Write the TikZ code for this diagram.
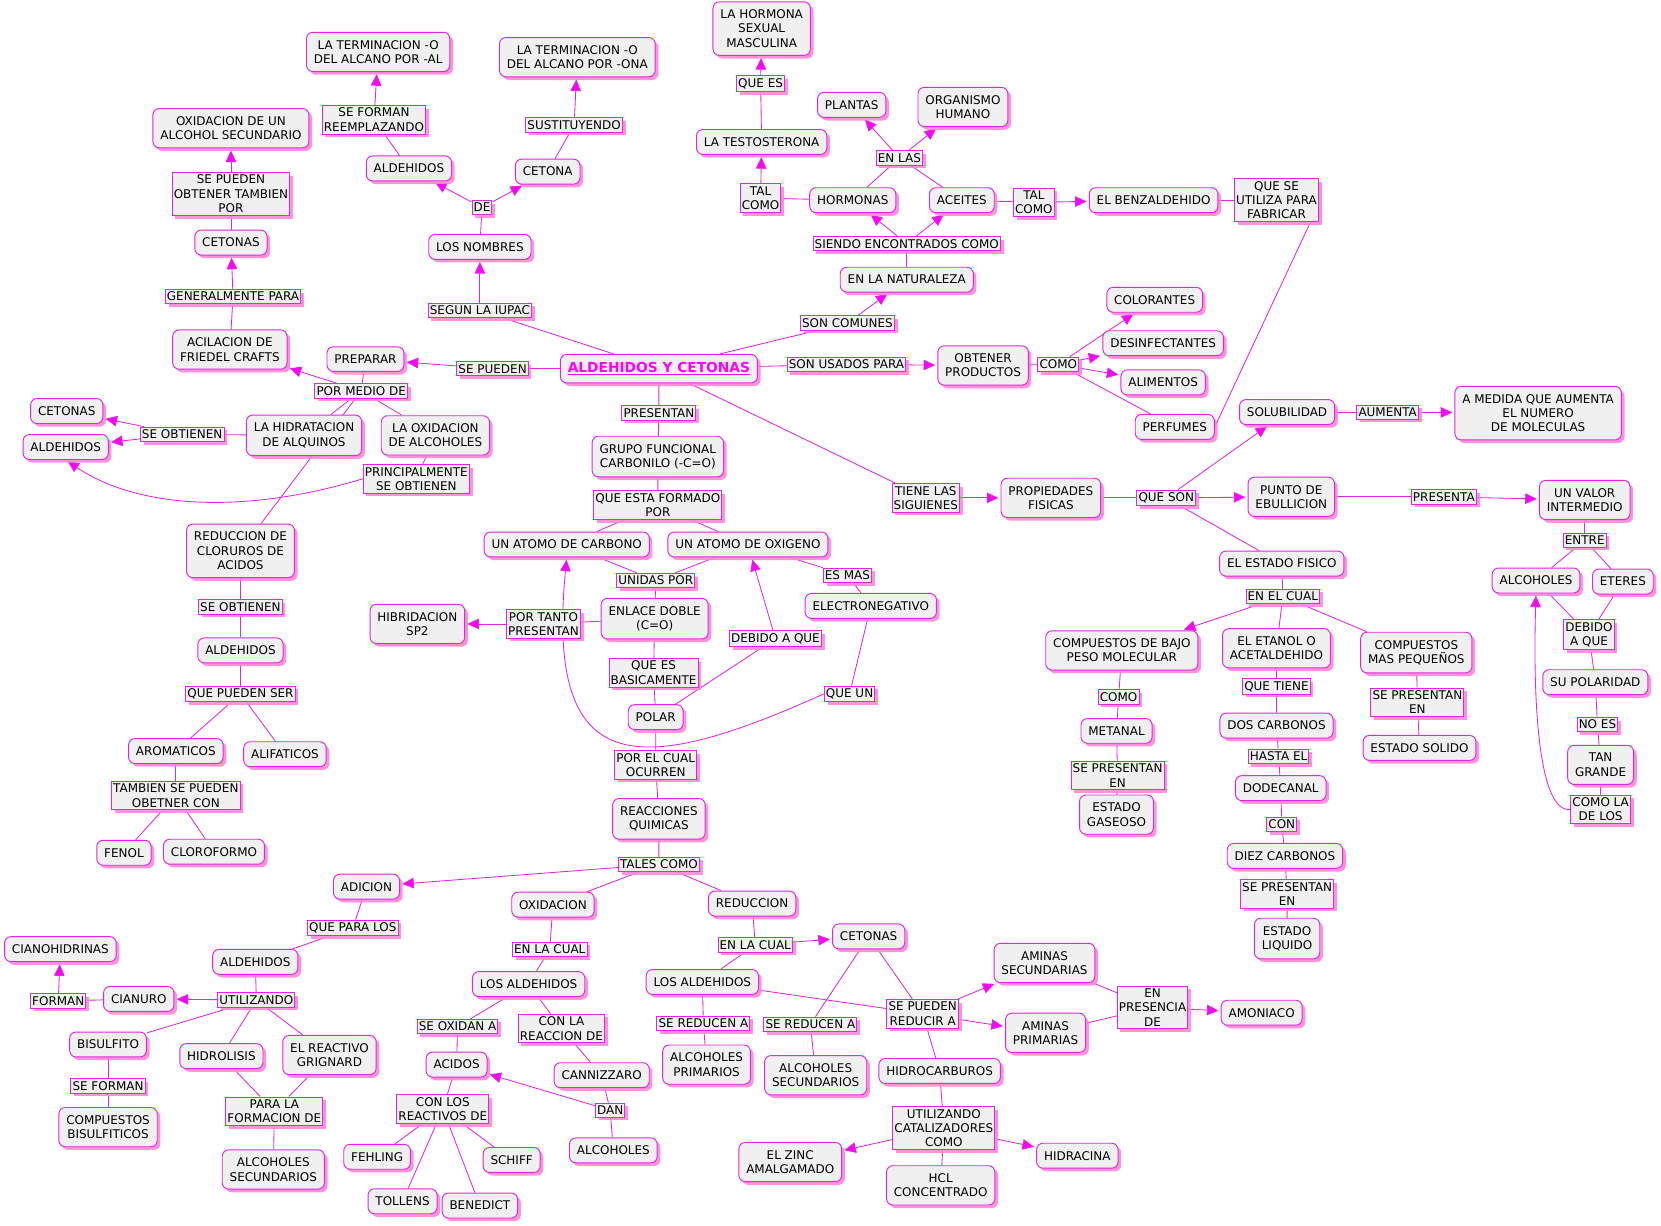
\documentclass[tikz,border=0pt]{standalone}
\usepackage{fontspec}
\setmainfont{DejaVu Sans}
\usetikzlibrary{arrows.meta,shadows,backgrounds}
\definecolor{aldmag}{RGB}{222,40,222}
\definecolor{aldfill}{RGB}{240,240,240}
\definecolor{aldshade}{RGB}{255,135,215}
\definecolor{aldtip}{RGB}{255,0,255}
\begin{document}
\begin{tikzpicture}[x=1pt, y=-1pt,
  aldconc/.style = {draw=aldmag, line width=0.9pt, fill=aldfill, rounded corners=6pt,
    align=center, inner xsep=7pt, inner ysep=7.5pt,
    font=\fontsize{11.3}{13.5}\selectfont,
    drop shadow={fill=aldshade, opacity=0.9, shadow xshift=3pt, shadow yshift=-3pt}},
  aldlink/.style = {draw=aldmag, line width=0.9pt, fill=aldfill, align=center,
    inner xsep=1.5pt, inner ysep=2.5pt, font=\fontsize{11.3}{13.5}\selectfont,
    drop shadow={fill=aldshade, opacity=0.9, shadow xshift=3pt, shadow yshift=-3pt}},
  aldline/.style = {draw=aldmag, line width=0.8pt},
  aldarr/.style = {aldline, -{Triangle[length=11pt,width=10pt,fill=aldtip]}, shorten >=2pt}
]
\useasboundingbox (0,0) rectangle (1568,1157);

% centro
\node[aldconc, font=\fontsize{13}{15}\selectfont\bfseries, text=aldtip] (central) at (622,348) {\underline{ALDEHIDOS Y CETONAS}};

% naturaleza
\node[aldconc] (hormona) at (719,27) {LA HORMONA\\SEXUAL\\MASCULINA};
\node[aldlink] (quees) at (718,79) {QUE ES};
\node[aldconc] (testost) at (719,134) {LA TESTOSTERONA};
\node[aldlink] (talcomoA) at (718,187) {TAL\\COMO};
\node[aldconc] (hormonas) at (805,189) {HORMONAS};
\node[aldconc] (plantas) at (804,99) {PLANTAS};
\node[aldconc] (organismo) at (909,101) {ORGANISMO\\HUMANO};
\node[aldlink] (enlas) at (849,149) {EN LAS};
\node[aldconc] (aceites) at (908,189) {ACEITES};
\node[aldlink] (talcomoB) at (976,191) {TAL\\COMO};
\node[aldconc] (benzal) at (1089,189) {EL BENZALDEHIDO};
\node[aldlink] (queseutil) at (1205,189) {QUE SE\\UTILIZA PARA\\FABRICAR};
\node[aldlink] (siendo) at (856,230) {SIENDO ENCONTRADOS COMO};
\node[aldconc] (naturaleza) at (856,264) {EN LA NATURALEZA};
\node[aldlink] (soncomunes) at (800,305) {SON COMUNES};

% nombres
\node[aldconc] (termA) at (357,49) {LA TERMINACION -O\\DEL ALCANO POR -AL};
\node[aldlink] (seformanA) at (353,113) {SE FORMAN\\REEMPLAZANDO};
\node[aldconc] (aldehA) at (386,159) {ALDEHIDOS};
\node[aldconc] (termB) at (545,54) {LA TERMINACION -O\\DEL ALCANO POR -ONA};
\node[aldlink] (sustit) at (542,118) {SUSTITUYENDO};
\node[aldconc] (cetonA) at (517,162) {CETONA};
\node[aldlink] (de) at (455,196) {DE};
\node[aldconc] (nombres) at (453,233) {LOS NOMBRES};
\node[aldlink] (segun) at (453,293) {SEGUN LA IUPAC};

% preparacion
\node[aldconc] (oxsec) at (218,121) {OXIDACION DE UN\\ALCOHOL SECUNDARIO};
\node[aldlink] (sepuedenB) at (218,183) {SE PUEDEN\\OBTENER TAMBIEN\\POR};
\node[aldconc] (cetonasA) at (218,229) {CETONAS};
\node[aldlink] (generalm) at (220,280) {GENERALMENTE PARA};
\node[aldconc] (acilac) at (217,330) {ACILACION DE\\FRIEDEL CRAFTS};
\node[aldconc] (preparar) at (345,339) {PREPARAR};
\node[aldlink] (sepuedenA) at (465,348) {SE PUEDEN};
\node[aldlink] (pormedio) at (341,369) {POR MEDIO DE};
\node[aldconc] (hidrat) at (287,411) {LA HIDRATACION\\DE ALQUINOS};
\node[aldconc] (oxalc) at (411,411) {LA OXIDACION\\DE ALCOHOLES};
\node[aldlink] (seobtA) at (172,410) {SE OBTIENEN};
\node[aldconc] (cetonasB) at (63,388) {CETONAS};
\node[aldconc] (aldehB) at (62,422) {ALDEHIDOS};
\node[aldlink] (princip) at (393,452) {PRINCIPALMENTE\\SE OBTIENEN};
\node[aldconc] (reduccl) at (227,520) {REDUCCION DE\\CLORUROS DE\\ACIDOS};
\node[aldlink] (seobtB) at (227,573) {SE OBTIENEN};
\node[aldconc] (aldehC) at (227,614) {ALDEHIDOS};
\node[aldlink] (puedenser) at (227,655) {QUE PUEDEN SER};
\node[aldconc] (aromat) at (166,709) {AROMATICOS};
\node[aldconc] (alifat) at (269,712) {ALIFATICOS};
\node[aldlink] (tambien) at (166,751) {TAMBIEN SE PUEDEN\\OBETNER CON};
\node[aldconc] (fenol) at (117,805) {FENOL};
\node[aldconc] (clorof) at (202,804) {CLOROFORMO};

% carbonilo
\node[aldlink] (presentan) at (622,390) {PRESENTAN};
\node[aldconc] (grupo) at (621,431) {GRUPO FUNCIONAL\\CARBONILO (-C=O)};
\node[aldlink] (formado) at (621,477) {QUE ESTA FORMADO\\POR};
\node[aldconc] (atomC) at (535,514) {UN ATOMO DE CARBONO};
\node[aldconc] (atomO) at (706,514) {UN ATOMO DE OXIGENO};
\node[aldlink] (unidas) at (619,548) {UNIDAS POR};
\node[aldconc] (enlace) at (618,584) {ENLACE DOBLE\\(C=O)};
\node[aldlink] (portanto) at (513,589) {POR TANTO\\PRESENTAN};
\node[aldconc] (hibrid) at (394,589) {HIBRIDACION\\SP2};
\node[aldlink] (esmas) at (800,543) {ES MAS};
\node[aldconc] (electro) at (822,572) {ELECTRONEGATIVO};
\node[aldlink] (debidoA) at (732,603) {DEBIDO A QUE};
\node[aldlink] (basic) at (617,635) {QUE ES\\BASICAMENTE};
\node[aldconc] (polar) at (619,677) {POLAR};
\node[aldlink] (queun) at (802,655) {QUE UN};
\node[aldlink] (porelcual) at (619,722) {POR EL CUAL\\OCURREN};
\node[aldconc] (reacc) at (622,773) {REACCIONES\\QUIMICAS};
\node[aldlink] (tales) at (622,816) {TALES COMO};

% adicion
\node[aldconc] (adicion) at (346,837) {ADICION};
\node[aldlink] (quepara) at (333,876) {QUE PARA LOS};
\node[aldconc] (aldehD) at (241,908) {ALDEHIDOS};
\node[aldlink] (utilizA) at (242,944) {UTILIZANDO};
\node[aldconc] (cianuro) at (131,943) {CIANURO};
\node[aldlink] (forman) at (55,945) {FORMAN};
\node[aldconc] (cianoh) at (57,896) {CIANOHIDRINAS};
\node[aldconc] (bisulf) at (102,986) {BISULFITO};
\node[aldconc] (hidrol) at (209,997) {HIDROLISIS};
\node[aldconc] (grign) at (311,996) {EL REACTIVO\\GRIGNARD};
\node[aldlink] (seformanB) at (102,1025) {SE FORMAN};
\node[aldconc] (compbis) at (102,1064) {COMPUESTOS\\BISULFITICOS};
\node[aldlink] (paraform) at (259,1049) {PARA LA\\FORMACION DE};
\node[aldconc] (alcsecA) at (258,1104) {ALCOHOLES\\SECUNDARIOS};

% oxidacion
\node[aldconc] (oxid) at (522,854) {OXIDACION};
\node[aldlink] (enlacualA) at (519,896) {EN LA CUAL};
\node[aldconc] (losaldA) at (499,929) {LOS ALDEHIDOS};
\node[aldlink] (seoxidan) at (432,969) {SE OXIDAN A};
\node[aldlink] (conlareac) at (530,971) {CON LA\\REACCION DE};
\node[aldconc] (acidos) at (431,1005) {ACIDOS};
\node[aldconc] (cannizz) at (568,1015) {CANNIZZARO};
\node[aldlink] (dan) at (576,1048) {DAN};
\node[aldconc] (alcoholes) at (579,1086) {ALCOHOLES};
\node[aldlink] (conlosreac) at (418,1047) {CON LOS\\REACTIVOS DE};
\node[aldconc] (fehling) at (356,1092) {FEHLING};
\node[aldconc] (schiff) at (483,1095) {SCHIFF};
\node[aldconc] (tollens) at (380,1134) {TOLLENS};
\node[aldconc] (benedict) at (453,1138) {BENEDICT};

% reduccion
\node[aldconc] (reduc) at (710,853) {REDUCCION};
\node[aldlink] (enlacualB) at (713,892) {EN LA CUAL};
\node[aldconc] (cetonasC) at (820,884) {CETONAS};
\node[aldconc] (losaldB) at (663,927) {LOS ALDEHIDOS};
\node[aldlink] (sereducA) at (664,966) {SE REDUCEN A};
\node[aldconc] (alcprim) at (667,1005) {ALCOHOLES\\PRIMARIOS};
\node[aldlink] (sereducB) at (765,967) {SE REDUCEN A};
\node[aldconc] (alcsecB) at (770,1015) {ALCOHOLES\\SECUNDARIOS};
\node[aldlink] (reducira) at (871,957) {SE PUEDEN\\REDUCIR A};
\node[aldconc] (aminsec) at (986,909) {AMINAS\\SECUNDARIAS};
\node[aldconc] (aminprim) at (987,975) {AMINAS\\PRIMARIAS};
\node[aldlink] (enpresencia) at (1088,951) {EN\\PRESENCIA\\DE};
\node[aldconc] (amoniaco) at (1191,956) {AMONIACO};
\node[aldconc] (hidroc) at (887,1011) {HIDROCARBUROS};
\node[aldlink] (utilizB) at (891,1065) {UTILIZANDO\\CATALIZADORES\\COMO};
\node[aldconc] (zinc) at (746,1097) {EL ZINC\\AMALGAMADO};
\node[aldconc] (hcl) at (888,1119) {HCL\\CONCENTRADO};
\node[aldconc] (hidracina) at (1017,1091) {HIDRACINA};

% usos
\node[aldlink] (sonusados) at (799,344) {SON USADOS PARA};
\node[aldconc] (obtener) at (928,345) {OBTENER\\PRODUCTOS};
\node[aldlink] (comoA) at (999,344) {COMO};
\node[aldconc] (colorantes) at (1090,283) {COLORANTES};
\node[aldconc] (desinf) at (1098,324) {DESINFECTANTES};
\node[aldconc] (alimentos) at (1098,361) {ALIMENTOS};
\node[aldconc] (perfumes) at (1109,403) {PERFUMES};

% propiedades fisicas
\node[aldlink] (tienelas) at (874,470) {TIENE LAS\\SIGUIENES};
\node[aldconc] (propfis) at (992,470) {PROPIEDADES\\FISICAS};
\node[aldlink] (queson) at (1101,470) {QUE SON};
\node[aldconc] (solub) at (1215,389) {SOLUBILIDAD};
\node[aldlink] (aumenta) at (1310,389) {AUMENTA};
\node[aldconc] (amedida) at (1452,390) {A MEDIDA QUE AUMENTA\\EL NUMERO\\DE MOLECULAS};
\node[aldconc] (punto) at (1219,469) {PUNTO DE\\EBULLICION};
\node[aldlink] (presenta) at (1363,469) {PRESENTA};
\node[aldconc] (unvalor) at (1496,472) {UN VALOR\\INTERMEDIO};
\node[aldlink] (entre) at (1496,510) {ENTRE};
\node[aldconc] (alcohB) at (1450,548) {ALCOHOLES};
\node[aldconc] (eteres) at (1532,549) {ETERES};
\node[aldlink] (debidoB) at (1500,599) {DEBIDO\\A QUE};
\node[aldconc] (polaridad) at (1506,644) {SU POLARIDAD};
\node[aldlink] (noes) at (1508,684) {NO ES};
\node[aldconc] (tangrande) at (1511,722) {TAN\\GRANDE};
\node[aldlink] (comola) at (1511,764) {COMO LA\\DE LOS};
\node[aldconc] (estadof) at (1210,532) {EL ESTADO FISICO};
\node[aldlink] (enelcual) at (1211,563) {EN EL CUAL};
\node[aldconc] (bajopeso) at (1059,614) {COMPUESTOS DE BAJO\\PESO MOLECULAR};
\node[aldconc] (etanol) at (1205,612) {EL ETANOL O\\ACETALDEHIDO};
\node[aldconc] (maspeq) at (1337,616) {COMPUESTOS\\MAS PEQUEÑOS};
\node[aldlink] (comoB) at (1056,658) {COMO};
\node[aldconc] (metanal) at (1054,690) {METANAL};
\node[aldlink] (sepresA) at (1055,732) {SE PRESENTAN\\EN};
\node[aldconc] (gaseoso) at (1054,769) {ESTADO\\GASEOSO};
\node[aldlink] (quetiene) at (1205,648) {QUE TIENE};
\node[aldconc] (doscarb) at (1205,685) {DOS CARBONOS};
\node[aldlink] (hasta) at (1207,714) {HASTA EL};
\node[aldconc] (dodec) at (1209,744) {DODECANAL};
\node[aldlink] (con) at (1210,778) {CON};
\node[aldconc] (diezcarb) at (1213,808) {DIEZ CARBONOS};
\node[aldlink] (sepresB) at (1215,844) {SE PRESENTAN\\EN};
\node[aldconc] (liquido) at (1215,886) {ESTADO\\LIQUIDO};
\node[aldlink] (sepresC) at (1338,663) {SE PRESENTAN\\EN};
\node[aldconc] (solido) at (1340,706) {ESTADO SOLIDO};

\begin{scope}[on background layer]
  % arriba
  \draw[aldline] (testost) -- (quees);
  \draw[aldarr] (quees) -- (hormona);
  \draw[aldline] (hormonas) -- (talcomoA);
  \draw[aldarr] (talcomoA) -- (testost);
  \draw[aldline] (hormonas) -- (enlas);
  \draw[aldline] (aceites) -- (enlas);
  \draw[aldarr] (enlas) -- (plantas);
  \draw[aldarr] (enlas) -- (organismo);
  \draw[aldline] (naturaleza) -- (siendo);
  \draw[aldarr] (siendo) -- (hormonas);
  \draw[aldarr] (siendo) -- (aceites);
  \draw[aldline] (aceites) -- (talcomoB);
  \draw[aldarr] (talcomoB) -- (benzal);
  \draw[aldline] (benzal) -- (queseutil);
  \draw[aldline] ([xshift=-8pt]queseutil.south east) -- (perfumes.east);
  \draw[aldline] (central) -- (soncomunes);
  \draw[aldarr] (soncomunes) -- (naturaleza);
  \draw[aldline] (aldehA) -- (seformanA);
  \draw[aldarr] (seformanA) -- (termA);
  \draw[aldline] (cetonA) -- (sustit);
  \draw[aldarr] (sustit) -- (termB);
  \draw[aldline] (nombres) -- (de);
  \draw[aldarr] (de) -- (aldehA);
  \draw[aldarr] (de) -- (cetonA);
  \draw[aldline] (central) -- (segun);
  \draw[aldarr] (segun) -- (nombres);
  % izquierda
  \draw[aldline] (cetonasA) -- (sepuedenB);
  \draw[aldarr] (sepuedenB) -- (oxsec);
  \draw[aldline] (acilac) -- (generalm);
  \draw[aldarr] (generalm) -- (cetonasA);
  \draw[aldline] (central) -- (sepuedenA);
  \draw[aldarr] (sepuedenA) -- (preparar);
  \draw[aldline] (preparar) -- (pormedio);
  \draw[aldarr] (pormedio) -- (acilac);
  \draw[aldline] (pormedio) -- (hidrat);
  \draw[aldline] (pormedio) -- (oxalc);
  \draw[aldline] (pormedio) -- (reduccl);
  \draw[aldline] (hidrat) -- (seobtA);
  \draw[aldarr] (seobtA) -- (cetonasB);
  \draw[aldarr] (seobtA) -- (aldehB);
  \draw[aldline] (oxalc) -- (princip);
  \draw[aldarr] (princip.west) .. controls (230,486) and (130,480) .. (aldehB.south);
  \draw[aldline] (reduccl) -- (seobtB) -- (aldehC) -- (puedenser);
  \draw[aldline] (puedenser) -- (aromat);
  \draw[aldline] (puedenser) -- (alifat);
  \draw[aldline] (aromat) -- (tambien);
  \draw[aldline] (tambien) -- (fenol);
  \draw[aldline] (tambien) -- (clorof);
  % centro
  \draw[aldline] (central) -- (presentan) -- (grupo) -- (formado);
  \draw[aldline] (formado) -- (atomC);
  \draw[aldline] (formado) -- (atomO);
  \draw[aldline] (atomC) -- (unidas);
  \draw[aldline] (atomO) -- (unidas);
  \draw[aldline] (unidas) -- (enlace);
  \draw[aldline] (enlace) -- (portanto);
  \draw[aldarr] (portanto) -- (hibrid);
  \draw[aldline] (atomO) -- (esmas) -- (electro);
  \draw[aldline] (electro) -- (queun);
  \draw[aldarr] (queun.west) .. controls (600,735) and (515,735) .. (atomC.south);
  \draw[aldline] (polar) -- (debidoA);
  \draw[aldarr] (debidoA) -- (atomO);
  \draw[aldline] (enlace) -- (basic) -- (polar) -- (porelcual) -- (reacc) -- (tales);
  \draw[aldarr] (tales) -- (adicion);
  \draw[aldline] (tales) -- (oxid);
  \draw[aldline] (tales) -- (reduc);
  % adicion
  \draw[aldline] (adicion) -- (quepara) -- (aldehD) -- (utilizA);
  \draw[aldarr] (utilizA) -- (cianuro);
  \draw[aldline] (cianuro) -- (forman);
  \draw[aldarr] (forman) -- (cianoh);
  \draw[aldline] (utilizA) -- (bisulf);
  \draw[aldline] (utilizA) -- (hidrol);
  \draw[aldline] (utilizA) -- (grign);
  \draw[aldline] (bisulf) -- (seformanB) -- (compbis);
  \draw[aldline] (hidrol) -- (paraform);
  \draw[aldline] (grign) -- (paraform);
  \draw[aldline] (paraform) -- (alcsecA);
  % oxidacion
  \draw[aldline] (oxid) -- (enlacualA) -- (losaldA);
  \draw[aldline] (losaldA) -- (seoxidan) -- (acidos);
  \draw[aldline] (losaldA) -- (conlareac) -- (cannizz) -- (dan) -- (alcoholes);
  \draw[aldarr] (dan) -- (acidos);
  \draw[aldline] (acidos) -- (conlosreac);
  \draw[aldline] (conlosreac) -- (fehling);
  \draw[aldline] (conlosreac) -- (schiff);
  \draw[aldline] (conlosreac) -- (tollens);
  \draw[aldline] (conlosreac) -- (benedict);
  % reduccion
  \draw[aldline] (reduc) -- (enlacualB);
  \draw[aldarr] (enlacualB) -- (cetonasC);
  \draw[aldline] (enlacualB) -- (losaldB);
  \draw[aldline] (losaldB) -- (sereducA) -- (alcprim);
  \draw[aldline] (cetonasC) -- (sereducB) -- (alcsecB);
  \draw[aldline] (losaldB) -- (reducira);
  \draw[aldline] (cetonasC) -- (reducira);
  \draw[aldarr] (reducira) -- (aminsec);
  \draw[aldarr] (reducira) -- (aminprim);
  \draw[aldline] (aminsec) -- (enpresencia);
  \draw[aldline] (aminprim) -- (enpresencia);
  \draw[aldarr] (enpresencia) -- (amoniaco);
  \draw[aldline] (reducira) -- (hidroc) -- (utilizB);
  \draw[aldarr] (utilizB) -- (zinc);
  \draw[aldarr] (utilizB) -- (hidracina);
  \draw[aldline] (utilizB) -- (hcl);
  % derecha
  \draw[aldline] (central) -- (sonusados);
  \draw[aldarr] (sonusados) -- (obtener);
  \draw[aldline] (obtener) -- (comoA);
  \draw[aldarr] (comoA) -- (colorantes);
  \draw[aldarr] (comoA) -- (desinf);
  \draw[aldarr] (comoA) -- (alimentos);
  \draw[aldline] (comoA) -- (perfumes);
  \draw[aldline] (central) -- (tienelas);
  \draw[aldarr] (tienelas) -- (propfis);
  \draw[aldline] (propfis) -- (queson);
  \draw[aldarr] (queson) -- (solub);
  \draw[aldarr] (queson) -- (punto);
  \draw[aldline] (queson) -- (estadof);
  \draw[aldline] (solub) -- (aumenta);
  \draw[aldarr] (aumenta) -- (amedida);
  \draw[aldline] (punto) -- (presenta);
  \draw[aldarr] (presenta) -- (unvalor);
  \draw[aldline] (unvalor) -- (entre);
  \draw[aldline] (entre) -- (alcohB);
  \draw[aldline] (entre) -- (eteres);
  \draw[aldline] (alcohB) -- (debidoB);
  \draw[aldline] (eteres) -- (debidoB);
  \draw[aldline] (debidoB) -- (polaridad) -- (noes) -- (tangrande) -- (comola);
  \draw[aldarr] (comola.west) .. controls (1452,768) and (1447,660) .. (alcohB.south);
  \draw[aldline] (estadof) -- (enelcual);
  \draw[aldarr] (enelcual) -- (bajopeso);
  \draw[aldline] (enelcual) -- (etanol);
  \draw[aldline] (enelcual) -- (maspeq);
  \draw[aldline] (bajopeso) -- (comoB) -- (metanal) -- (sepresA) -- (gaseoso);
  \draw[aldline] (etanol) -- (quetiene) -- (doscarb) -- (hasta) -- (dodec) -- (con) -- (diezcarb) -- (sepresB) -- (liquido);
  \draw[aldline] (maspeq) -- (sepresC) -- (solido);
\end{scope}
\end{tikzpicture}
\end{document}
